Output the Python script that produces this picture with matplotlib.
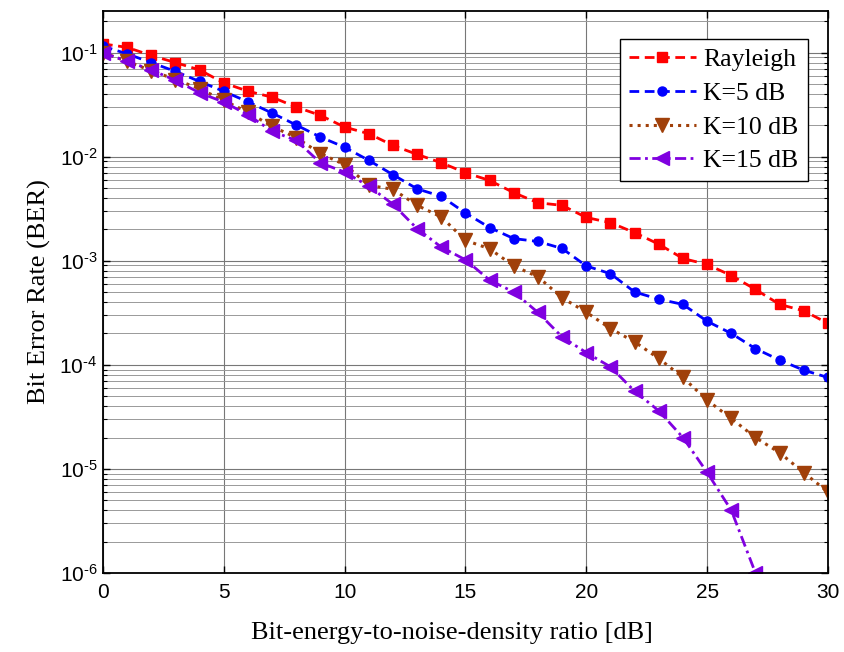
import numpy as np
import matplotlib
matplotlib.use("Agg")
import matplotlib.pyplot as plt
from matplotlib.ticker import LogLocator, NullFormatter, FixedLocator, FuncFormatter

plt.rcParams["mathtext.fontset"] = "custom"
plt.rcParams["mathtext.rm"] = "Liberation Sans"
plt.rcParams["mathtext.it"] = "Liberation Sans:italic"
plt.rcParams["mathtext.bf"] = "Liberation Sans:bold"

# Eb/N0 axis [dB]
ebn0 = list(range(0, 31))

ber_rayleigh = [0.121, 0.112, 0.0936, 0.080, 0.068, 0.051, 0.0425, 0.0372, 0.0299, 0.0249,
                0.0192, 0.0166, 0.0128, 0.0105, 0.00873, 0.0070, 0.0059, 0.0045, 0.0036, 0.0034,
                0.0026, 0.00232, 0.00186, 0.00144, 0.00105, 0.00092, 0.00072, 0.00053, 0.00038,
                0.00033, 0.00025]
ber_k5 = [0.115, 0.097, 0.080, 0.0658, 0.0527, 0.0423, 0.0336, 0.0262, 0.0201, 0.0154,
          0.0123, 0.0092, 0.0067, 0.0049, 0.00415, 0.00287, 0.00208, 0.00163, 0.00153, 0.00131,
          0.00089, 0.00075, 0.00050, 0.000427, 0.00038, 0.000262, 0.00020, 0.000143, 0.000111,
          8.87e-5, 7.55e-5]
ber_k10 = [0.100, 0.082, 0.067, 0.055, 0.0448, 0.0346, 0.0267, 0.0195, 0.0152, 0.0107,
           0.00836, 0.0053, 0.00485, 0.0034, 0.00263, 0.00157, 0.0013, 0.00089, 0.0007, 0.00044,
           0.00032, 0.000223, 0.000166, 0.000115, 7.55e-5, 4.57e-5, 3.05e-5, 2.0e-5, 1.43e-5,
           9.2e-6, 6.0e-6]
ebn0_k15 = list(range(0, 28))
ber_k15 = [0.099, 0.0826, 0.068, 0.054, 0.041, 0.0334, 0.0252, 0.0175, 0.0143, 0.0087,
           0.0071, 0.0052, 0.00348, 0.00203, 0.00135, 0.00102, 0.00065, 0.0005, 0.000318,
           0.000185, 0.000131, 9.55e-5, 5.58e-5, 3.61e-5, 2.0e-5, 9.25e-6, 4.0e-6, 1.0e-6]

labels = ["Rayleigh", "K=5 dB", "K=10 dB", "K=15 dB"]
xticks = [0, 5, 10, 15, 20, 25, 30]

serif = ["Liberation Serif", "DejaVu Serif"]
sans = ["Liberation Sans", "DejaVu Sans"]

fig = plt.figure(figsize=(8.44, 6.52), dpi=100)
ax = fig.add_axes([0.122, 0.1212, 0.859, 0.8618])

ax.semilogy(ebn0, ber_rayleigh, color="#FF0000", ls="--", lw=2, marker="s", ms=6.5,
            label=labels[0], dashes=(3.5, 2))
ax.semilogy(ebn0, ber_k5, color="#0000FF", ls="--", lw=2, marker="o", ms=6.5,
            label=labels[1], dashes=(3.5, 2))
ax.semilogy(ebn0, ber_k10, color="#A0400A", ls=":", lw=2.2, marker="v", ms=9.5,
            label=labels[2])
ax.semilogy(ebn0_k15, ber_k15, color="#8000E0", ls="-.", lw=2, marker="<", ms=9.5,
            label=labels[3], dashes=(4, 1.6, 1, 1.6))

ax.set_xlim(0, 30)
ax.set_ylim(1e-6, 0.25)
ax.xaxis.set_major_locator(FixedLocator(xticks))
ax.yaxis.set_major_locator(LogLocator(base=10, numticks=20))
ax.yaxis.set_minor_locator(LogLocator(base=10, subs=np.arange(2, 10), numticks=20))
ax.yaxis.set_minor_formatter(NullFormatter())
ax.yaxis.set_major_formatter(FuncFormatter(
    lambda v, _: r"$\mathregular{10^{\text{-}%d}}$" % abs(int(round(np.log10(v))))))

ax.grid(True, which="major", color="#777777", lw=0.8, ls="-")
ax.grid(True, which="minor", axis="y", color="#999999", lw=0.7, ls="-")
ax.set_axisbelow(True)

ax.tick_params(which="both", direction="in", top=True, right=True)
ax.tick_params(which="major", length=5, width=1, labelsize=15)
ax.tick_params(axis="x", which="major", pad=7)
ax.tick_params(axis="y", which="major", pad=4)
ax.tick_params(which="minor", length=3, width=0.8)
for lab in ax.get_xticklabels() + ax.get_yticklabels():
    lab.set_family(sans)
for sp in ax.spines.values():
    sp.set_linewidth(1.3)

ax.set_xlabel("Bit-energy-to-noise-density ratio [dB]", fontsize=19, family=serif, labelpad=14)
ax.xaxis.set_label_coords(0.481, -0.088)
ax.set_ylabel("Bit Error Rate (BER)", fontsize=19, family=serif, labelpad=6)

leg = ax.legend(loc="upper right", bbox_to_anchor=(0.972, 0.95), prop={"family": serif, "size": 18.5},
                fancybox=False, edgecolor="black", framealpha=1, handlelength=2.6,
                borderpad=0.35, labelspacing=0.42, handletextpad=0.3, borderaxespad=0)
leg.get_frame().set_linewidth(1.0)

fig.savefig("out.png", dpi=100)
